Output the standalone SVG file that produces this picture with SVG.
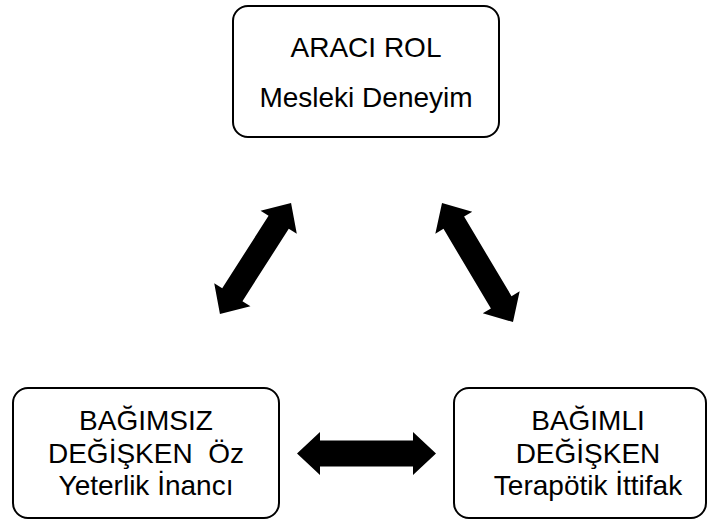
<svg xmlns="http://www.w3.org/2000/svg" width="711" height="522" viewBox="0 0 711 522">
<style>
.box{fill:#fff;stroke:#000;stroke-width:2}
.t{font-family:"Liberation Sans",Arial,sans-serif;font-size:28px;fill:#000;text-anchor:middle;white-space:pre}
.arr{fill:#000}
</style>
<rect width="711" height="522" fill="#fff"/>
<g id="connectors">
<polygon class="arr" transform="translate(255.5,258.5) rotate(-57.4)" points="-66,0 -43,-21.5 -43,-12 43,-12 43,-21.5 66,0 43,21.5 43,12 -43,12 -43,21.5"/>
<polygon class="arr" transform="translate(477.5,262.5) rotate(59.2)" points="-69.3,0 -46.3,-21.5 -46.3,-12 46.3,-12 46.3,-21.5 69.3,0 46.3,21.5 46.3,12 -46.3,12 -46.3,21.5"/>
<polygon class="arr" transform="translate(366.5,453.5)" points="-69.5,0 -46.5,-21.5 -46.5,-13 46.5,-13 46.5,-21.5 69.5,0 46.5,21.5 46.5,13 -46.5,13 -46.5,21.5"/>
</g>
<g id="node-araci">
<rect class="box" x="233" y="6" width="266" height="131" rx="15"/>
<text class="t" x="366" y="57">ARACI ROL</text>
<text class="t" x="366" y="107">Mesleki Deneyim</text>
</g>
<g id="node-bagimsiz">
<rect class="box" x="13" y="388" width="266" height="130" rx="15"/>
<text class="t" x="146" y="430">BAĞIMSIZ</text>
<text class="t" x="146" y="463" xml:space="preserve">DEĞİŞKEN  Öz</text>
<text class="t" x="146" y="495">Yeterlik İnancı</text>
</g>
<g id="node-bagimli">
<rect class="box" x="454" y="388" width="252" height="130" rx="15"/>
<text class="t" x="588" y="430">BAĞIMLI</text>
<text class="t" x="588" y="463">DEĞİŞKEN</text>
<text class="t" x="588" y="495">Terapötik İttifak</text>
</g>
</svg>
